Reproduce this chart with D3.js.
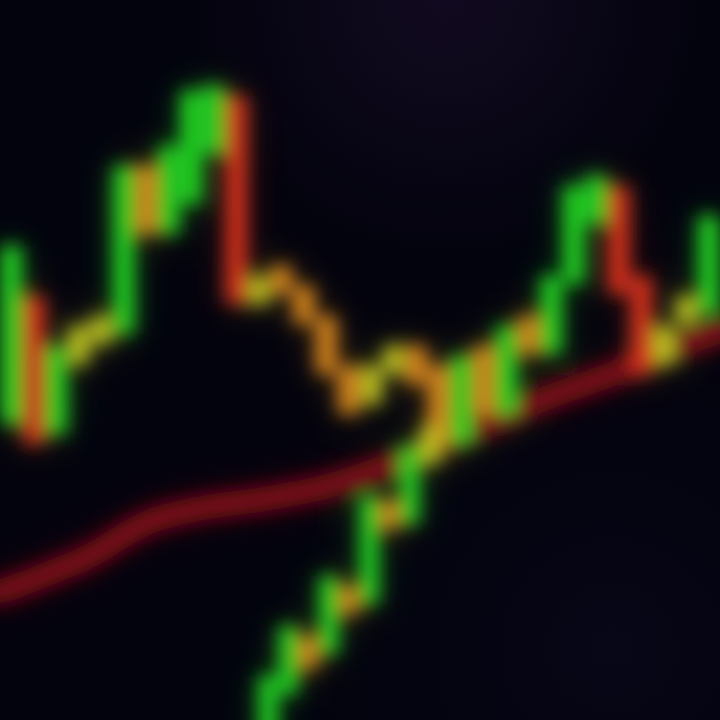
<!DOCTYPE html>
<html><head><meta charset="utf-8">
<script src="https://cdn.jsdelivr.net/npm/d3@7/dist/d3.min.js"></script>
<style>html,body{margin:0;padding:0;background:#03030e;overflow:hidden}</style>
</head><body>
<script>
// Main candle series (open / close prices)
const mainOpen  = [130,142,129,136,138,139,155,149,152,157,162,142,145,143,140,135,132,135,137,135,128,137,131,140,137,144,150,153,144,136,140,141];
const mainClose = [147,128,137,139,140,155,149,157,162.5,163,142,144,143,140,135,131,135,137,134,128,136,131,139,137,144,153,154,143,135,139,142,150];
// Lower (foreground) candle series
const lowOpen  = [98,103,108,107,113,112,121.5,120,126];
const lowClose = [104,109,105.5,114,111,122,119.5,127,129];
// Moving average (indices -1 .. 32)
const maValues = [112.5,113.2,114,115,115.8,117,118.5,119.8,120.5,121,121.4,121.7,122,122.4,122.8,123.3,124,124.8,125.6,126.5,127.5,128.5,129.5,130.5,131.5,132.4,133.2,134,134.8,135.8,136.8,137.7,138.5,139.3];

const W=720,H=720;
const svg=d3.select("body").append("svg").attr("width",W).attr("height",H);
const defs=svg.append("defs");
defs.append("filter").attr("id","blur").attr("x","-20%").attr("y","-20%").attr("width","140%").attr("height","140%")
  .append("feGaussianBlur").attr("stdDeviation",9);
defs.append("filter").attr("id","blur2").attr("x","-20%").attr("y","-20%").attr("width","140%").attr("height","140%")
  .append("feGaussianBlur").attr("stdDeviation",18);
const rg=defs.append("radialGradient").attr("id","glow").attr("cx","0.62").attr("cy","0").attr("r","0.35");
rg.append("stop").attr("offset","0").attr("stop-color","#120a20");
rg.append("stop").attr("offset","1").attr("stop-color","#03030e");
svg.append("rect").attr("width",W).attr("height",H).attr("fill","url(#glow)");
const rg2=defs.append("radialGradient").attr("id","glow2").attr("cx","0.85").attr("cy","0.9").attr("r","0.5");
rg2.append("stop").attr("offset","0").attr("stop-color","#070718").attr("stop-opacity",1);
rg2.append("stop").attr("offset","1").attr("stop-color","#03030e").attr("stop-opacity",0);
svg.append("rect").attr("width",W).attr("height",H).attr("fill","url(#glow2)");

const y=d3.scaleLinear().domain([100,172]).range([H,0]);
const x=d3.scaleLinear().domain([-0.5,31.5]).range([0,W]);
const xl=d3.scaleLinear().domain([-0.5,8.5]).range([258,440]);

function col(o,c){
  const d=c-o;
  if(d>=4) return "#24d424";
  if(d>=0) return "#bcc222";
  if(d>-9) return "#d8861c";
  return "#d8301a";
}
const mainData=mainOpen.map((o,i)=>({i,o,c:mainClose[i]}));
const lowData=lowOpen.map((o,i)=>({i,o,c:lowClose[i]}));
const maData=maValues.map((v,k)=>({i:k-1,v}));

const glowG=svg.append("g").attr("filter","url(#blur2)").attr("opacity",0.35);
const g=svg.append("g").attr("filter","url(#blur)");

function draw(layer){
  layer.append("path").datum(maData)
    .attr("d",d3.line().x(d=>x(d.i)).y(d=>y(d.v)).curve(d3.curveBasis))
    .attr("fill","none").attr("stroke","#7c0c18").attr("stroke-width",24);
  layer.selectAll(".m").data(mainData).join("rect")
    .attr("x",d=>x(d.i)-10).attr("width",20)
    .attr("y",d=>y(Math.max(d.o,d.c))-4)
    .attr("height",d=>Math.abs(y(d.o)-y(d.c))+8)
    .attr("fill",d=>col(d.o,d.c));
  layer.selectAll(".l").data(lowData).join("rect")
    .attr("x",d=>xl(d.i)-9).attr("width",18)
    .attr("y",d=>y(Math.max(d.o,d.c))-4)
    .attr("height",d=>Math.abs(y(d.o)-y(d.c))+8)
    .attr("fill",d=>col(d.o,d.c));
}
draw(glowG);
draw(g);
</script>
</body></html>
